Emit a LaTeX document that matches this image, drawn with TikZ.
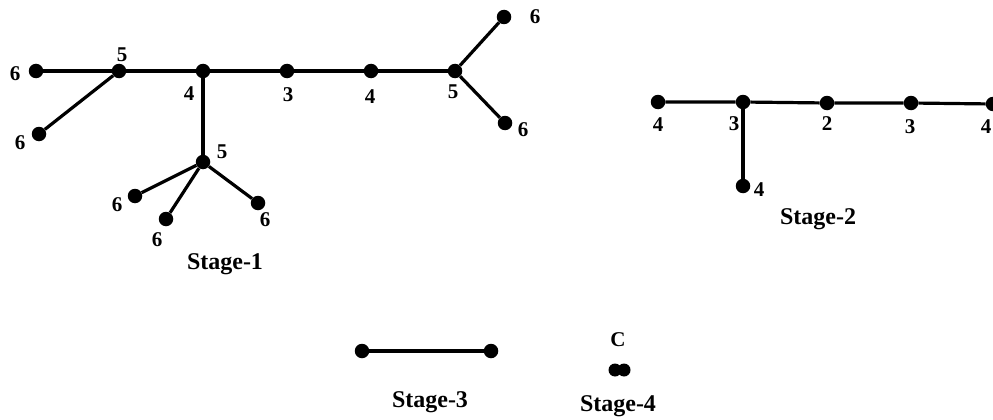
\documentclass[tikz,border=0pt]{standalone}
\usepackage{fontspec}
\setmainfont{Liberation Serif}
\begin{document}
\begin{tikzpicture}[x=1pt,y=-1pt,
  dot/.style={circle,fill=black,inner sep=0pt,minimum size=14.5pt},
  lab/.style={font=\bfseries\fontsize{21}{21}\selectfont,inner sep=0pt},
  stagelab/.style={font=\bfseries\fontsize{24}{24}\selectfont,inner sep=0pt},
  edge/.style={line width=3.2pt}]
\useasboundingbox (0,0) rectangle (993,420);
% ---------- Stage 1 ----------
\node[dot] (a) at (36,71) {};
\node[dot] (b) at (119,71) {};
\node[dot] (c) at (39,134) {};
\node[dot] (d) at (203,71) {};
\node[dot] (e) at (287,71) {};
\node[dot] (f) at (371,71) {};
\node[dot] (g) at (455,71) {};
\node[dot] (h) at (504,17) {};
\node[dot] (i) at (505,123) {};
\node[dot] (j) at (203,162) {};
\node[dot] (k) at (135,196) {};
\node[dot] (l) at (166,219) {};
\node[dot] (m) at (258,203) {};
\draw[edge] (a) -- (b) -- (d) -- (e) -- (f) -- (g);
\draw[edge] (b) -- (c);
\draw[edge] (g) -- (h);
\draw[edge] (g) -- (i);
\draw[edge] (d) -- (j);
\draw[edge] (j) -- (k);
\draw[edge] (j) -- (l);
\draw[edge] (j) -- (m);
\node[lab] (la) at (15,74) {6};
\node[lab] (lb) at (122,55) {5};
\node[lab] (lc) at (20,143) {6};
\node[lab] (ld) at (189,94) {4};
\node[lab] (le) at (288,95) {3};
\node[lab] (lf) at (370,97) {4};
\node[lab] (lg) at (453,92) {5};
\node[lab] (lh) at (535,17) {6};
\node[lab] (li) at (523,130) {6};
\node[lab] (lj) at (222,152) {5};
\node[lab] (lk) at (117,205) {6};
\node[lab] (ll) at (157,240) {6};
\node[lab] (lm) at (265,220) {6};
\node[stagelab] (s1) at (225,264) {Stage-1};
% ---------- Stage 2 ----------
\node[dot] (p1) at (658,102) {};
\node[dot] (p2) at (743,102) {};
\node[dot] (p3) at (827,103) {};
\node[dot] (p4) at (911,103) {};
\node[dot] (p5) at (993,104) {};
\node[dot] (p6) at (743,186) {};
\draw[edge] (p1) -- (p2) -- (p3) -- (p4) -- (p5);
\draw[edge] (p2) -- (p6);
\node[lab] (q1) at (658,125) {4};
\node[lab] (q2) at (734,124) {3};
\node[lab] (q3) at (827,124) {2};
\node[lab] (q4) at (910,127) {3};
\node[lab] (q5) at (986,127) {4};
\node[lab] (q6) at (759,190) {4};
\node[stagelab] (s2) at (818,219) {Stage-2};
% ---------- Stage 3 ----------
\node[dot] (r1) at (362,351) {};
\node[dot] (r2) at (491,351) {};
\draw[edge] (r1) -- (r2);
\node[stagelab] (s3) at (430,402) {Stage-3};
% ---------- Stage 4 ----------
\node[dot,minimum size=13pt] (t1) at (615,370) {};
\node[dot,minimum size=13pt] (t2) at (624,370) {};
\node[lab] (tc) at (618,340) {C};
\node[stagelab] (s4) at (618,406) {Stage-4};
\end{tikzpicture}
\end{document}
